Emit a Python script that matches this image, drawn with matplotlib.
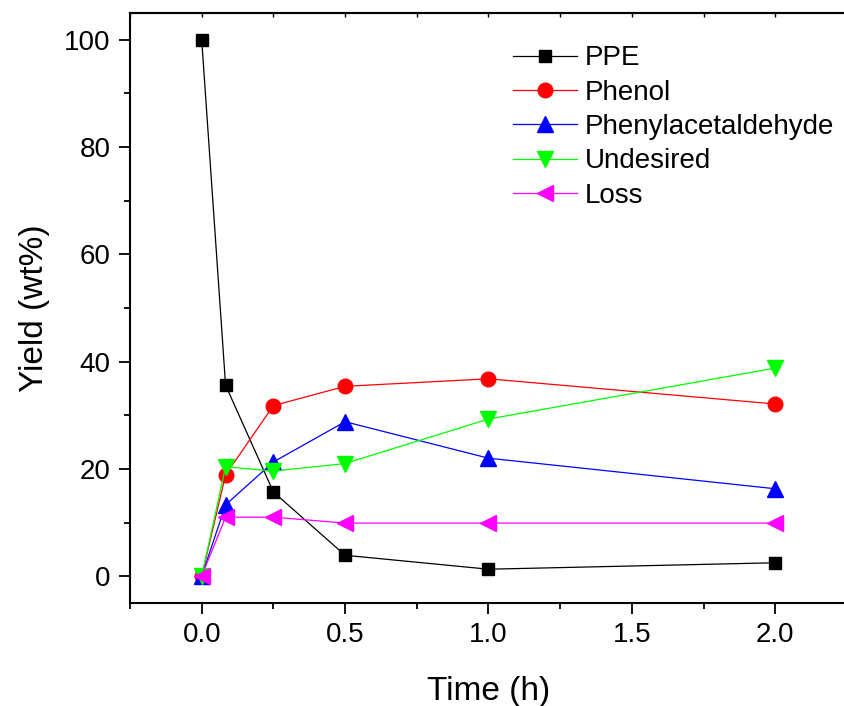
import matplotlib
matplotlib.use("Agg")
import matplotlib.pyplot as plt
from matplotlib.ticker import MultipleLocator

plt.rcParams['font.family'] = ['Liberation Sans', 'DejaVu Sans']

time_h = [0, 0.0833, 0.25, 0.5, 1.0, 2.0]
ppe = [100, 35.6, 15.7, 3.9, 1.3, 2.5]
phenol = [0, 18.9, 31.8, 35.4, 36.8, 32.1]
phenylacetaldehyde = [0, 13.3, 21.3, 28.8, 22.0, 16.3]
undesired = [0, 20.4, 19.6, 21.0, 29.3, 38.8]
loss = [0, 11.0, 11.0, 9.9, 9.9, 9.9]

series = [
    ("PPE", ppe, "black", "s", 9),
    ("Phenol", phenol, "red", "o", 10.5),
    ("Phenylacetaldehyde", phenylacetaldehyde, "blue", "^", 11),
    ("Undesired", undesired, "#00ff00", "v", 11),
    ("Loss", loss, "magenta", "<", 11),
]

fig = plt.figure(figsize=(8.45, 7.06), dpi=100)
ax = fig.add_axes([130/845, 103/706, 717/845, 590/706])

for name, vals, col, mk, ms in series:
    ax.plot(time_h, vals, color=col, marker=mk, markersize=ms, lw=0.9,
            mfc=col, mec=col, label=name)

ax.set_xlim(-0.25, 2.25)
ax.set_ylim(-5, 105)
ax.xaxis.set_major_locator(MultipleLocator(0.5))
ax.xaxis.set_minor_locator(MultipleLocator(0.25))
ax.yaxis.set_major_locator(MultipleLocator(20))
ax.yaxis.set_minor_locator(MultipleLocator(10))
ax.xaxis.set_major_formatter(matplotlib.ticker.FormatStrFormatter('%.1f'))

ax.tick_params(which='major', direction='out', length=8, width=1.3, labelsize=20, pad=6)
ax.tick_params(which='minor', direction='out', length=4.5, width=1.3)
ax.tick_params(top=False, right=False)
for s in ax.spines.values():
    s.set_linewidth(1.5)

sec = ax.secondary_xaxis('top')
sec.xaxis.set_major_locator(MultipleLocator(0.25))
sec.tick_params(direction='in', length=3, width=1, labeltop=False)
sec.spines['top'].set_linewidth(1.5)

ax.set_xlabel("Time (h)", fontsize=24, labelpad=20)
ax.set_ylabel("Yield (wt%)", fontsize=24, labelpad=10)

leg = ax.legend(loc='upper left', bbox_to_anchor=(0.519, 0.964), frameon=False,
                fontsize=20, handlelength=2.3, handletextpad=0.29,
                labelspacing=0.3, borderaxespad=0)

fig.savefig("out.png", dpi=100)
